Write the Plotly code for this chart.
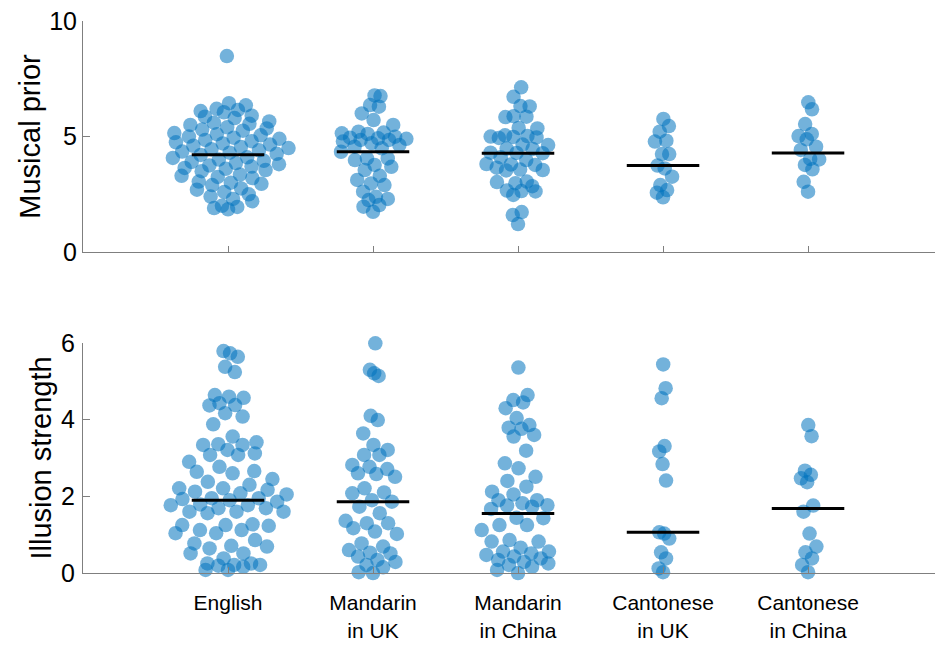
import numpy as np
import plotly.graph_objects as go

# ---------------- data ----------------
categories = ["English", "Mandarin\nin UK", "Mandarin\nin China", "Cantonese\nin UK", "Cantonese\nin China"]

prior_english = [8.48, 6.44, 6.35, 6.15, 6.2, 6.1, 6.05, 5.86, 5.8, 5.9, 5.6, 5.55, 5.65, 5.5,
                 5.35, 5.3, 5.4, 5.25, 5.1, 5.05, 5.15, 5.0, 4.8, 4.85, 4.9, 4.75, 4.7, 4.95,
                 4.6, 4.65, 4.55, 4.5, 4.45, 4.3, 4.35, 4.25, 4.4, 4.2, 4.07, 4.1, 4.0, 3.95,
                 3.85, 3.8, 3.9, 3.75, 3.64, 3.6, 3.7, 3.55, 3.5, 3.3, 3.35, 3.25, 3.2,
                 3.0, 3.05, 2.95, 2.9, 2.7, 2.75, 2.6, 2.5, 2.4, 2.2, 2.3, 2.0, 1.9, 1.95, 1.85]
prior_mandarin_uk = [6.78, 6.75, 6.36, 6.29, 6.0, 5.71, 5.5, 5.21, 5.14, 5.17, 5.11, 4.85, 4.92,
                     4.99, 4.78, 4.71, 4.9, 4.95, 4.85, 4.56, 4.63, 4.49, 4.05, 3.98, 4.34, 4.05,
                     3.69, 3.77, 3.55, 3.3, 3.12, 2.97, 2.61, 2.9, 2.39, 2.25, 2.3, 2.03, 1.96, 1.74]
prior_mandarin_china = [7.13, 6.72, 6.3, 6.32, 5.86, 5.88, 5.84, 5.35, 5.37, 5.02, 5.05, 4.98, 5.0,
                        4.96, 4.94, 4.65, 4.63, 4.46, 4.48, 4.29, 4.3, 4.28, 3.98, 3.79, 3.81, 3.77,
                        3.55, 3.57, 3.53, 3.03, 3.05, 2.98, 2.64, 2.66, 2.62, 2.47, 1.73, 1.6, 1.21,
                        4.1, 3.65, 2.85]
prior_cantonese_uk = [5.76, 5.45, 5.21, 4.82, 4.78, 4.24, 4.24, 3.74, 3.62, 3.26, 2.9, 2.68, 2.57, 2.37]
prior_cantonese_china = [6.48, 6.18, 5.54, 5.11, 5.02, 4.88, 4.56, 4.42, 4.01, 4.03, 3.77, 3.58, 3.04, 2.61]

illusion_english = [5.64, 5.79, 5.73, 5.38, 5.24, 4.57, 4.6, 4.64, 4.43, 4.37, 4.38, 4.08, 4.17,
                    3.88, 3.56, 3.34, 3.21, 3.34, 3.41, 3.36, 2.9, 3.08, 3.12, 3.08, 2.77, 2.66,
                    2.6, 2.45, 2.64, 2.38, 2.21, 2.3, 2.21, 2.05, 1.93, 1.86, 2.12, 1.95, 2.08,
                    2.17, 1.95, 1.69, 1.69, 1.77, 1.9, 1.77, 1.79, 1.56, 1.6, 1.6, 1.6, 1.25,
                    1.23, 1.27, 1.25, 1.12, 1.04, 1.04, 1.12, 0.69, 0.86, 0.64, 0.77, 0.71, 0.51,
                    0.51, 0.38, 0.21, 0.21, 0.16, 0.25, 0.25, 0.08, 0.08, 0.19]
illusion_mandarin_uk = [5.99, 5.3, 5.21, 5.14, 4.1, 3.99, 3.64, 3.34, 3.21, 3.08, 3.08, 2.71, 2.82,
                        2.77, 2.6, 2.51, 2.58, 2.21, 2.08, 2.1, 1.9, 1.86, 1.73, 1.56, 1.3, 1.3,
                        1.36, 1.17, 1.02, 1.08, 0.69, 0.43, 0.77, 0.6, 0.51, 0.53, 0.29, 0.34,
                        0.21, 0.15, 0.02, 0.0]
illusion_mandarin_china = [5.36, 4.64, 4.51, 4.45, 4.3, 4.04, 3.79, 3.76, 3.86, 3.6, 3.56, 3.19,
                           2.86, 2.73, 2.51, 2.4, 2.25, 2.05, 2.12, 1.82, 1.9, 1.9, 1.76, 1.77,
                           1.73, 1.67, 1.44, 1.43, 1.25, 1.25, 1.12, 0.86, 0.82, 0.82, 0.51, 0.56,
                           0.38, 0.43, 0.34, 0.47, 0.56, 0.66, 0.16, 0.08, 0.21, 0.25, 0.29, 0.0]
illusion_cantonese_uk = [5.44, 4.82, 4.56, 3.31, 3.17, 2.84, 2.41, 1.06, 1.03, 0.9, 0.54, 0.38, 0.12, 0.02]
illusion_cantonese_china = [3.86, 3.57, 2.67, 2.56, 2.47, 2.37, 1.76, 1.6, 1.03, 0.69, 0.54, 0.38, 0.21, 0.02]

prior_medians = [4.21, 4.34, 4.27, 3.74, 4.29]
illusion_medians = [1.90, 1.86, 1.55, 1.06, 1.68]

prior_ticks = [0, 5, 10]
illusion_ticks = [0, 2, 4, 6]

prior_groups = [prior_english, prior_mandarin_uk, prior_mandarin_china, prior_cantonese_uk, prior_cantonese_china]
illusion_groups = [illusion_english, illusion_mandarin_uk, illusion_mandarin_china,
                   illusion_cantonese_uk, illusion_cantonese_china]

# ---------------- deterministic density-scaled swarm layout ----------------
def swarm_offsets(groups, width=0.43):
    dens = []
    for vals in groups:
        v = np.asarray(vals, dtype=float)
        n = len(v)
        sd = v.std(ddof=1)
        q75, q25 = np.percentile(v, [75, 25])
        spread = min(sd, (q75 - q25) / 1.34) if q75 > q25 else sd
        bw = 0.9 * spread * n ** -0.2
        d = np.array([np.exp(-0.5 * ((y - v) / bw) ** 2).sum() / (bw * np.sqrt(2 * np.pi)) for y in v])
        dens.append(d)
    m = max(d.max() for d in dens)
    phi = (np.sqrt(5) - 1) / 2
    out = []
    for vals, d in zip(groups, dens):
        v = np.asarray(vals, dtype=float)
        order = np.argsort(v, kind="stable")
        u = np.empty(len(v))
        u[order] = (0.5 + np.arange(len(v)) * phi) % 1.0
        out.append((2 * u - 1) * width * (d / m) ** 1.15)
    return out

FONT = "Liberation Sans, Arial, sans-serif"
BLUE = "rgba(0,114,189,0.55)"
AXIS = "#7f7f7f"

fig = go.Figure()

panels = [(prior_groups, prior_medians, "x", "y"), (illusion_groups, illusion_medians, "x2", "y2")]
for groups, medians, xa, ya in panels:
    offs = swarm_offsets(groups)
    for i, (vals, off) in enumerate(zip(groups, offs)):
        fig.add_trace(go.Scatter(
            x=(i + 1) + off, y=vals, mode="markers", xaxis=xa, yaxis=ya,
            marker=dict(size=14.5, color=BLUE, line=dict(width=0)),
            cliponaxis=False, showlegend=False, hoverinfo="y"))
    for i, med in enumerate(medians):
        fig.add_trace(go.Scatter(
            x=[i + 1 - 0.25, i + 1 + 0.25], y=[med, med], mode="lines", xaxis=xa, yaxis=ya,
            line=dict(color="black", width=3), cliponaxis=False, showlegend=False, hoverinfo="skip"))

xpos = list(range(1, len(categories) + 1))
common_x = dict(range=[0, 5.91], tickvals=xpos, ticks="inside", ticklen=6, tickcolor=AXIS,
                showline=True, linecolor=AXIS, linewidth=1, showgrid=False, zeroline=False,
                automargin=False)
common_y = dict(ticks="inside", ticklen=7, tickcolor=AXIS, showline=True, linecolor=AXIS,
                linewidth=1, showgrid=False, zeroline=False, automargin=False,
                ticklabeloverflow="allow",
                tickfont=dict(family=FONT, size=25, color="black"))

# the page body has an 8px default margin, compensated in the figure margins
fig.update_layout(
    width=943, height=647, paper_bgcolor="white", plot_bgcolor="white",
    margin=dict(l=75, r=11, t=13, b=82, autoexpand=False),
    font=dict(family=FONT, color="black"),
    xaxis=dict(domain=[0, 1], anchor="y", showticklabels=False, **common_x),
    yaxis=dict(domain=[0.5815, 1], anchor="x", range=[0, 10], tickvals=prior_ticks,
               title=dict(text="Musical prior", font=dict(family=FONT, size=29), standoff=0),
               **common_y),
    xaxis2=dict(domain=[0, 1], anchor="y2", ticktext=[c.replace("\n", "<br>") for c in categories],
                tickfont=dict(family=FONT, size=21, color="black"), ticklabelstandoff=11,
                ticklabeloverflow="allow", **common_x),
    yaxis2=dict(domain=[0, 0.4167], anchor="x2", range=[0, 6], tickvals=illusion_ticks,
                title=dict(text="Illusion strength", font=dict(family=FONT, size=29), standoff=0),
                ticklabelstandoff=2, **common_y),
)

fig.write_html("out.html")
